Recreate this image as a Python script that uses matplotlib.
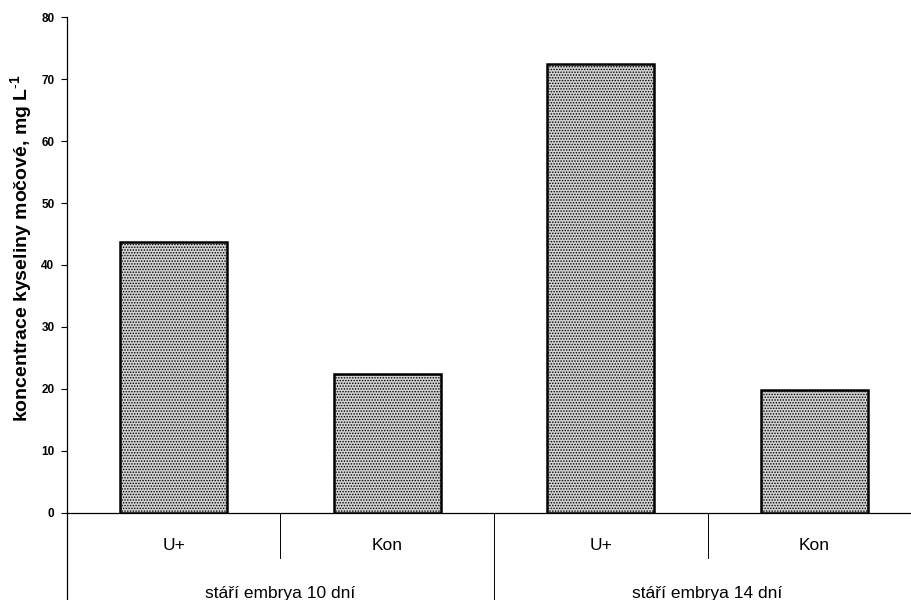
import matplotlib
matplotlib.use("Agg")
import matplotlib.pyplot as plt

# data
categories = ["U+", "Kon", "U+", "Kon"]
groups = ["stáří embrya 10 dní", "stáří embrya 14 dní"]
values = [43.7, 22.4, 72.5, 19.8]
yticks = [0, 10, 20, 30, 40, 50, 60, 70, 80]

plt.rcParams['font.family'] = ['Liberation Sans', 'DejaVu Sans']
plt.rcParams['mathtext.fontset'] = 'custom'
plt.rcParams['mathtext.rm'] = 'Liberation Sans'
plt.rcParams['mathtext.bf'] = 'Liberation Sans:bold'
plt.rcParams['hatch.color'] = '#a0a0a0'
plt.rcParams['hatch.linewidth'] = 0.7

fig = plt.figure(figsize=(9.11, 6.0), dpi=100)
ax = fig.add_axes([0.0735, 0.1455, 0.9375, 0.8257])

x = list(range(len(values)))
ax.bar(x, values, width=0.5, color='#d2d2d2', edgecolor='black',
       linewidth=1.8, hatch='......')

ax.set_xlim(-0.5, 3.5)
ax.set_ylim(0, 80)
ax.set_yticks(yticks)
ax.set_yticklabels([str(t) for t in yticks], fontweight='bold', fontsize=8.5)
ax.tick_params(axis='y', direction='out', length=4, width=0.8, pad=5)
ax.tick_params(axis='x', bottom=False, labelbottom=False)

for s in ['top', 'right']:
    ax.spines[s].set_visible(False)
ax.spines['left'].set_linewidth(0.9)
ax.spines['bottom'].set_linewidth(0.9)

ax.set_ylabel("koncentrace kyseliny močové, mg L$^{\\mathbf{\\text{-}1}}$",
              fontweight='bold', fontsize=14)
ax.yaxis.set_label_coords(-0.038, 0.535)

# category table below the axis
tr = ax.get_xaxis_transform()
ax.plot([-0.5, -0.5], [0, -0.2], transform=tr, color='black', lw=0.9, clip_on=False)
for xd in [0.5, 2.5]:
    ax.plot([xd, xd], [0, -0.091], transform=tr, color='black', lw=0.7, clip_on=False)
ax.plot([1.5, 1.5], [0, -0.2], transform=tr, color='black', lw=0.7, clip_on=False)

for i, c in enumerate(categories):
    ax.text(i, -0.066, c, transform=tr, ha='center', va='center', fontsize=12.5)
for j, g in enumerate(groups):
    ax.text(0.5 + 2 * j, -0.163, g, transform=tr, ha='center', va='center', fontsize=12.5)

fig.savefig("out.png", dpi=100)
